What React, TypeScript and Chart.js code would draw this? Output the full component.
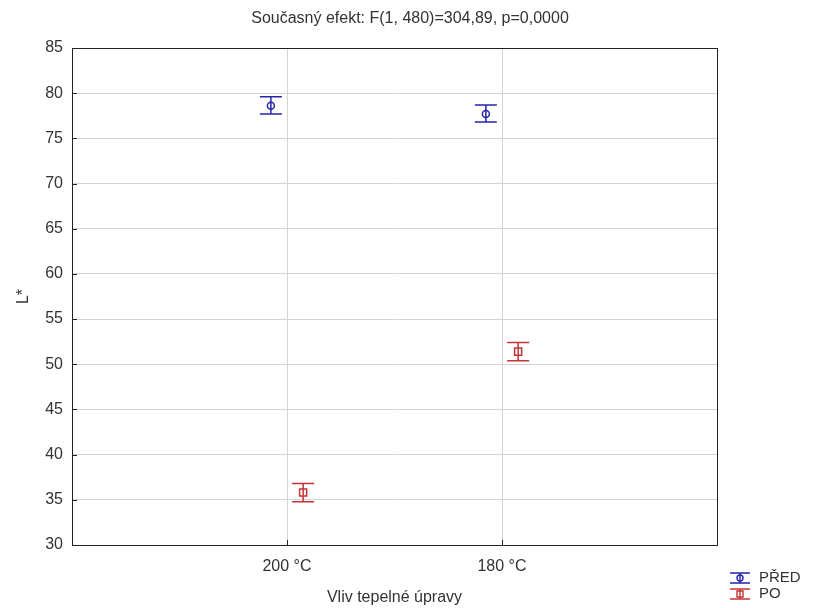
import React, { useEffect, useRef } from "react";
import { Chart, registerables } from "chart.js";

Chart.register(...registerables);

const chartTitle = "Současný efekt: F(1, 480)=304,89, p=0,0000";
const xAxisTitle = "Vliv tepelné úpravy";
const yAxisTitle = "L*";
const categories = ["200 °C", "180 °C"];
const seriesNames = ["PŘED", "PO"];
const predMean = [78.6, 77.7];
const predLow = [77.7, 76.8];
const predHigh = [79.6, 78.7];
const poMean = [35.8, 51.4];
const poLow = [34.8, 50.4];
const poHigh = [36.8, 52.4];
const yMin = 30;
const yMax = 85;
const yStep = 5;

const BLUE = "#2424a4";
const RED = "#c43434";
const FONT = "'Liberation Sans', Arial, sans-serif";
const TEXT = "#333333";
const OFFSET = 0.075;

export default function App() {
  const ref = useRef<HTMLCanvasElement>(null);
  useEffect(() => {
    document.body.style.margin = "0";
    const canvas = ref.current!;
    const errs = [
      { color: BLUE, mean: predMean, low: predLow, high: predHigh, dx: -OFFSET },
      { color: RED, mean: poMean, low: poLow, high: poHigh, dx: OFFSET },
    ];
    const plugin = {
      id: "custom",
      beforeDraw(chart: any) {
        const ctx = chart.ctx;
        ctx.save();
        ctx.fillStyle = "#ffffff";
        ctx.fillRect(0, 0, chart.width, chart.height);
        ctx.restore();
      },
      afterDatasetsDraw(chart: any) {
        const ctx = chart.ctx;
        const xs = chart.scales.x;
        const ys = chart.scales.y;
        const ca = chart.chartArea;
        ctx.save();
        ctx.strokeStyle = "#222";
        ctx.lineWidth = 1;
        ctx.strokeRect(Math.round(ca.left) + 0.5, Math.round(ca.top) + 0.5, Math.round(ca.right - ca.left), Math.round(ca.bottom - ca.top));
        ctx.beginPath();
        for (let v = yMin; v <= yMax; v += yStep) {
          const py = Math.round(ys.getPixelForValue(v)) + 0.5;
          ctx.moveTo(ca.left, py);
          ctx.lineTo(ca.left + 5, py);
        }
        categories.forEach((_, i) => {
          const px = Math.round(xs.getPixelForValue(i + 1)) + 0.5;
          ctx.moveTo(px, ca.bottom);
          ctx.lineTo(px, ca.bottom - 5);
        });
        ctx.stroke();
        errs.forEach((s) => {
          ctx.strokeStyle = s.color;
          ctx.lineWidth = 1.5;
          s.mean.forEach((_, i) => {
            const px = xs.getPixelForValue(i + 1 + s.dx);
            const pl = ys.getPixelForValue(s.low[i]);
            const ph = ys.getPixelForValue(s.high[i]);
            ctx.beginPath();
            ctx.moveTo(px, pl);
            ctx.lineTo(px, ph);
            ctx.moveTo(px - 11, pl);
            ctx.lineTo(px + 11, pl);
            ctx.moveTo(px - 11, ph);
            ctx.lineTo(px + 11, ph);
            ctx.stroke();
          });
        });
        ctx.restore();
      },
      afterDraw(chart: any) {
        const ctx = chart.ctx;
        ctx.save();
        ctx.fillStyle = TEXT;
        ctx.font = `16px ${FONT}`;
        ctx.textAlign = "center";
        ctx.textBaseline = "middle";
        ctx.fillText(chartTitle, 410, 19);
        const colors = [BLUE, RED];
        seriesNames.forEach((name, i) => {
          const cy = 578 + i * 16;
          const c = colors[i];
          ctx.strokeStyle = c;
          ctx.lineWidth = 1.4;
          ctx.beginPath();
          ctx.moveTo(730, cy - 5);
          ctx.lineTo(750, cy - 5);
          ctx.moveTo(730, cy + 5);
          ctx.lineTo(750, cy + 5);
          ctx.moveTo(740, cy - 5);
          ctx.lineTo(740, cy + 5);
          ctx.stroke();
          ctx.beginPath();
          if (i === 0) ctx.arc(740, cy, 3, 0, Math.PI * 2);
          else ctx.rect(737, cy - 3, 6, 6);
          ctx.stroke();
          ctx.fillStyle = TEXT;
          ctx.font = `15px ${FONT}`;
          ctx.textAlign = "left";
          ctx.fillText(name, 759, cy);
        });
        ctx.restore();
      },
    };
    const chart = new Chart(canvas, {
      type: "scatter",
      data: {
        datasets: [
          {
            label: seriesNames[0],
            data: predMean.map((v, i) => ({ x: i + 1 - OFFSET, y: v })),
            pointStyle: "circle",
            pointRadius: 3.5,
            borderColor: BLUE,
            backgroundColor: "rgba(0,0,0,0)",
            pointBorderWidth: 1.5,
          },
          {
            label: seriesNames[1],
            data: poMean.map((v, i) => ({ x: i + 1 + OFFSET, y: v })),
            pointStyle: "rect",
            pointRadius: 5,
            borderColor: RED,
            backgroundColor: "rgba(0,0,0,0)",
            pointBorderWidth: 1.5,
          },
        ],
      },
      options: {
        responsive: false,
        animation: false,
        layout: { padding: { top: 48, right: 97, bottom: 0, left: 0 } },
        plugins: { legend: { display: false }, tooltip: { enabled: false }, title: { display: false } },
        scales: {
          x: {
            type: "linear",
            min: 0,
            max: categories.length + 1,
            afterFit: (s: any) => { s.height = 63; },
            afterBuildTicks: (s: any) => {
              s.ticks = [0, 1, 2, 3].map((v) => ({ value: v }));
            },
            ticks: {
              padding: 12,
              color: TEXT,
              font: { family: FONT, size: 16 },
              callback: (v: any) => (v >= 1 && v <= categories.length ? categories[v - 1] : ""),
              maxRotation: 0,
            },
            grid: { color: "#d4d4d4", drawTicks: false },
            border: { display: false },
            title: {
              display: true,
              text: xAxisTitle,
              color: TEXT,
              font: { family: FONT, size: 16 },
              padding: { top: 0, bottom: 1 },
            },
          },
          y: {
            min: yMin,
            max: yMax,
            afterFit: (s: any) => { s.width = 72; },
            ticks: {
              stepSize: yStep,
              padding: 9,
              color: TEXT,
              font: { family: FONT, size: 16 },
            },
            grid: { color: "#d4d4d4", drawTicks: false },
            border: { display: false },
            title: {
              display: true,
              text: yAxisTitle,
              color: TEXT,
              font: { family: FONT, size: 16 },
              padding: { top: 14, bottom: 0 },
            },
          },
        },
      },
      plugins: [plugin],
    });
    return () => chart.destroy();
  }, []);
  return (
    <div style={{ width: 814, height: 608 }}>
      <canvas ref={ref} width={814} height={608} style={{ display: "block" }} />
    </div>
  );
}
